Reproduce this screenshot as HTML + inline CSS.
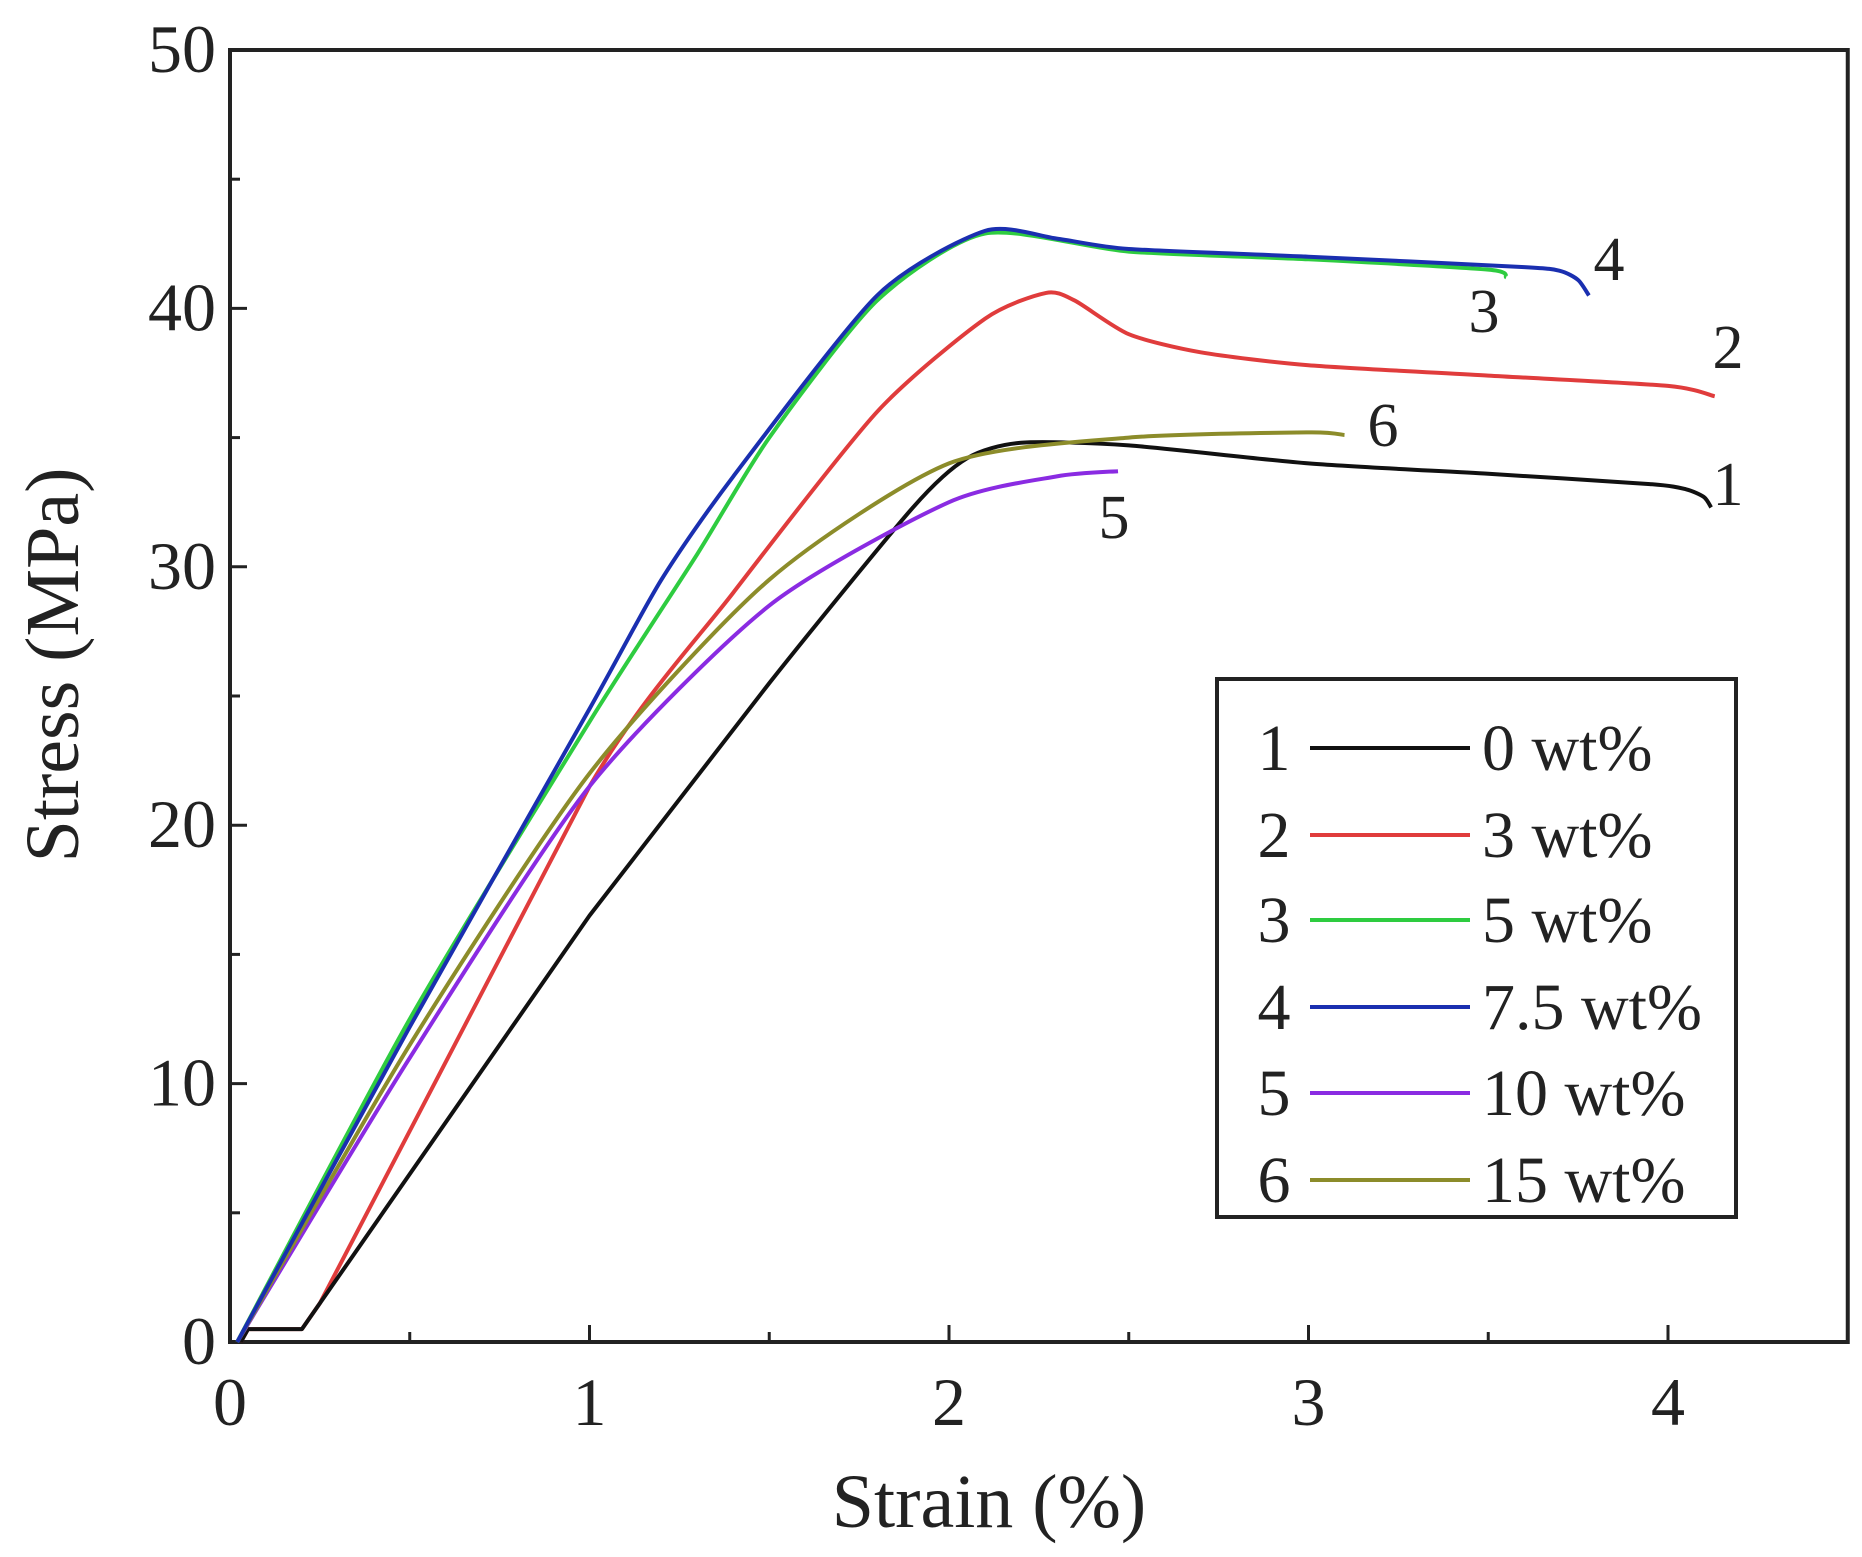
<!DOCTYPE html><html><head><meta charset="utf-8"><style>body{margin:0;background:#fff}svg{display:block}text{font-family:"Liberation Serif",serif;fill:#222}</style></head><body>
<svg id="s" width="1862" height="1557" xmlns="http://www.w3.org/2000/svg"></svg>
<script>
const s=document.getElementById('s');const NS='http://www.w3.org/2000/svg';
const X=v=>230+v*359.5, Y=v=>1342-v*25.84;
function el(t,a,txt){const e=document.createElementNS(NS,t);for(const k in a)e.setAttribute(k,a[k]);if(txt!==undefined)e.textContent=txt;s.appendChild(e);return e;}
function curve(pts,c,lin){lin=lin||0;const P=pts.map(p=>[X(p[0]),Y(p[1])]);let d='M'+P[0][0].toFixed(1)+','+P[0][1].toFixed(1);
 for(let i=0;i<P.length-1;i++){
  if(i<lin){d+='L'+P[i+1][0].toFixed(1)+','+P[i+1][1].toFixed(1);continue;}
  const p0=P[Math.max(i-1,0)],p1=P[i],p2=P[i+1],p3=P[Math.min(i+2,P.length-1)];const t=0.12;
  const c1=[p1[0]+(p2[0]-p0[0])*t,p1[1]+(p2[1]-p0[1])*t],c2=[p2[0]-(p3[0]-p1[0])*t,p2[1]-(p3[1]-p1[1])*t];
  d+='C'+c1.map(v=>v.toFixed(1))+' '+c2.map(v=>v.toFixed(1))+' '+p2.map(v=>v.toFixed(1));}
 el('path',{d:d,fill:'none',stroke:c,'stroke-width':4,'stroke-linejoin':'round'});}
el('rect',{x:X(0),y:Y(50),width:X(4.5)-X(0),height:Y(0)-Y(50),fill:'none',stroke:'#222','stroke-width':4});
for(let i=0;i<=9;i++){const v=i*0.5,L=i%2?10:17;el('line',{x1:X(v),x2:X(v),y1:Y(0),y2:Y(0)-L,stroke:'#222','stroke-width':3});
 if(i%2==0)el('text',{x:X(v),y:1425,'font-size':68,'text-anchor':'middle'},v);}
for(let i=0;i<=10;i++){const v=i*5,L=i%2?10:17;el('line',{x1:X(0),x2:X(0)+L,y1:Y(v),y2:Y(v),stroke:'#222','stroke-width':3});
 if(i%2==0)el('text',{x:216,y:Y(v)+22,'font-size':68,'text-anchor':'end'},v);}
el('text',{x:989,y:1527,'font-size':76,'text-anchor':'middle'},'Strain (%)');
el('text',{x:0,y:0,'font-size':76,'text-anchor':'middle',transform:'translate(78,665) rotate(-90)'},'Stress (MPa)');
curve([[0.03,0],[0.05,0.5],[0.2,0.5],[0.25,1.5],[1,21.5],[1.4,29],[1.8,36],[2.1,39.6],[2.27,40.6],[2.35,40.3],[2.5,39],[2.7,38.3],[3,37.8],[3.5,37.4],[4,37],[4.13,36.6]],'#e03c3c',4);
curve([[0.03,0],[0.05,0.5],[0.2,0.5],[0.3,2.5],[1,16.5],[1.5,25.5],[1.9,32.3],[2.05,34.2],[2.2,34.8],[2.5,34.7],[3,34],[3.5,33.6],[3.95,33.2],[4.05,33],[4.1,32.7],[4.12,32.3]],'#111',5);
curve([[0.02,0],[0.5,11],[1,21.5],[1.5,28.5],[2,32.5],[2.3,33.5],[2.47,33.7]],'#8a2be2');
curve([[0.02,0],[0.5,11.5],[1,22],[1.5,29.5],[2,34],[2.5,35],[3,35.2],[3.1,35.1]],'#8c8c2a');
curve([[0.02,0],[0.5,12.5],[1,24],[1.3,30.5],[1.5,35],[1.8,40.3],[2.1,42.9],[2.5,42.2],[3,41.9],[3.5,41.5],[3.55,41.2]],'#2ecc40');
curve([[0.02,0],[0.5,12.2],[1,24.5],[1.2,29.5],[1.4,33.5],[1.8,40.5],[2.1,43],[2.3,42.7],[2.5,42.3],[3,42],[3.6,41.6],[3.7,41.45],[3.75,41.1],[3.78,40.5]],'#1a2fb0');
[['4',1609,259],['3',1484,311],['2',1728,347],['6',1383,425],['1',1728,484],['5',1114,517]].forEach(l=>el('text',{x:l[1],y:l[2]+21,'font-size':62,'text-anchor':'middle'},l[0]));
el('rect',{x:1217,y:679,width:519,height:538,fill:'#fff',stroke:'#222','stroke-width':4});
const lg=[['1','#111','0 wt%'],['2','#e03c3c','3 wt%'],['3','#2ecc40','5 wt%'],['4','#1a2fb0','7.5 wt%'],['5','#8a2be2','10 wt%'],['6','#8c8c2a','15 wt%']];
const ly=[748,835,920,1007,1093,1180];
lg.forEach((g,i)=>{el('text',{x:1274,y:ly[i]+22,'font-size':66,'text-anchor':'middle'},g[0]);
 el('line',{x1:1310,x2:1470,y1:ly[i],y2:ly[i],stroke:g[1],'stroke-width':4});
 el('text',{x:1482,y:ly[i]+22,'font-size':66},g[2]);});
</script></body></html>
